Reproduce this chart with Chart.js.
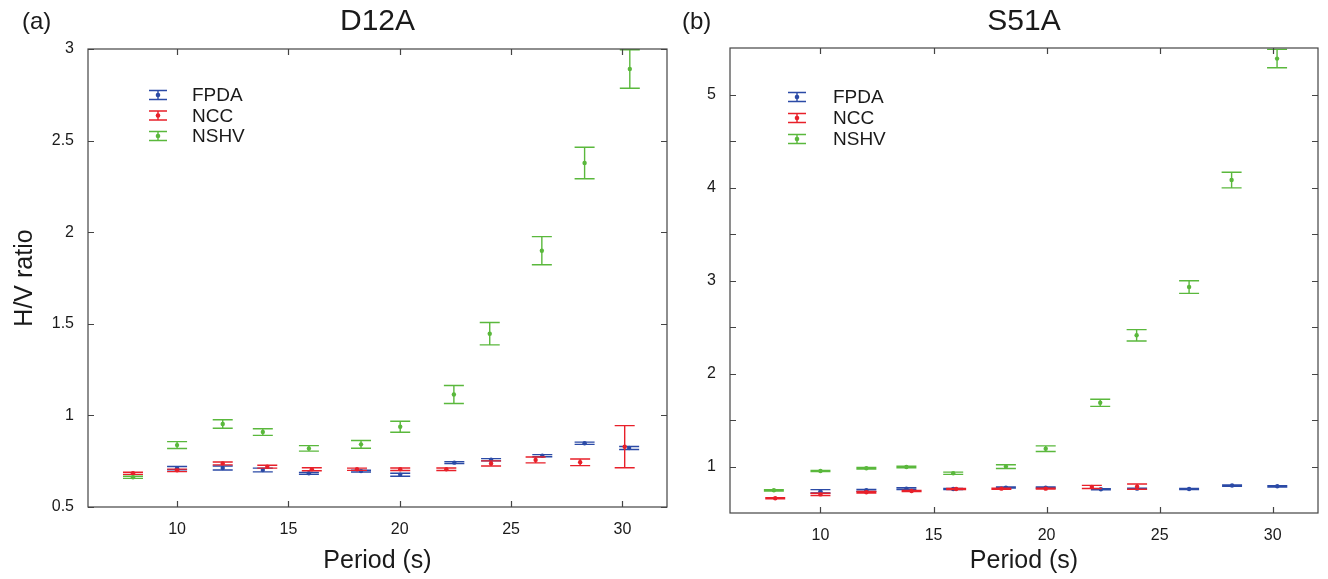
<!DOCTYPE html>
<html><head><meta charset="utf-8">
<script src="https://cdn.jsdelivr.net/npm/chart.js@4/dist/chart.umd.min.js"></script>
<style>
html,body{margin:0;padding:0;background:#fff;}
#wrap{position:relative;width:1328px;height:579px;overflow:hidden;}
.box{position:absolute;top:0;height:579px;}
</style></head><body>
<div id="wrap">
<div class="box" style="left:0;width:680px"><canvas id="c1"></canvas></div>
<div class="box" style="left:680px;width:648px"><canvas id="c2"></canvas></div>
</div>
<script>
// ---- data: D12A ----
const d12FpdaPeriod = [10, 12.05, 13.85, 15.92, 18.26, 20.02, 22.45, 24.1, 26.4, 28.3, 30.3];
const d12FpdaHV     = [0.712, 0.713, 0.702, 0.684, 0.696, 0.676, 0.742, 0.758, 0.78, 0.848, 0.822];
const d12FpdaErr    = [0.009, 0.011, 0.01, 0.005, 0.005, 0.008, 0.005, 0.006, 0.006, 0.006, 0.008];

const d12NccPeriod = [8.02, 10, 12.05, 14.05, 16.05, 18.08, 20.02, 22.09, 24.1, 26.1, 28.1, 30.1];
const d12NccHV     = [0.684, 0.70, 0.738, 0.72, 0.706, 0.706, 0.706, 0.706, 0.738, 0.757, 0.744, 0.829];
const d12NccErr    = [0.006, 0.007, 0.008, 0.008, 0.008, 0.006, 0.007, 0.007, 0.014, 0.016, 0.018, 0.115];

const d12NshvPeriod = [8.02, 10, 12.05, 13.85, 15.92, 18.26, 20.02, 22.43, 24.04, 26.38, 28.3, 30.33];
const d12NshvHV     = [0.662, 0.838, 0.953, 0.909, 0.82, 0.842, 0.938, 1.114, 1.446, 1.899, 2.378, 2.891];
const d12NshvErr    = [0.006, 0.019, 0.023, 0.018, 0.015, 0.021, 0.03, 0.049, 0.061, 0.077, 0.086, 0.105];

// ---- data: S51A ----
const s51FpdaPeriod = [10, 12.03, 13.8, 15.87, 18.2, 19.96, 22.4, 24.0, 26.3, 28.2, 30.2];
const s51FpdaHV     = [0.733, 0.744, 0.762, 0.758, 0.773, 0.773, 0.755, 0.762, 0.758, 0.795, 0.787];
const s51FpdaErr    = [0.018, 0.01, 0.01, 0.006, 0.006, 0.006, 0.005, 0.005, 0.006, 0.007, 0.007];

const s51NccPeriod = [8.0, 10, 12.03, 14.03, 16.0, 18.0, 19.96, 22.0, 24.0];
const s51NccHV     = [0.658, 0.70, 0.723, 0.737, 0.758, 0.762, 0.762, 0.78, 0.784];
const s51NccErr    = [0.006, 0.012, 0.008, 0.006, 0.005, 0.006, 0.005, 0.017, 0.028];

const s51NshvPeriod = [7.94, 10, 12.03, 13.8, 15.87, 18.2, 19.96, 22.37, 23.98, 26.3, 28.18, 30.19];
const s51NshvHV     = [0.744, 0.952, 0.981, 0.995, 0.927, 0.999, 1.192, 1.685, 2.411, 2.93, 4.08, 5.386];
const s51NshvErr    = [0.007, 0.006, 0.008, 0.008, 0.012, 0.02, 0.03, 0.038, 0.061, 0.068, 0.084, 0.099];

// ---- ticks / labels ----
const seriesNames = ['FPDA', 'NCC', 'NSHV'];
const xTicks = [10, 15, 20, 25, 30];
const yTicksA = [0.5, 1, 1.5, 2, 2.5, 3];
const yTicksB = [1, 1.5, 2, 2.5, 3, 3.5, 4, 4.5, 5];

const COLORS = ['#2b4aa6', '#e8202a', '#5ab83c'];
const FONT = '"Liberation Sans", Arial, Helvetica, sans-serif';
Chart.defaults.font.family = FONT;
Chart.defaults.color = '#1a1a1a';

function pts(px, py, pe) { return px.map((v, i) => ({x: v, y: py[i], e: pe[i]})); }

const errorBars = {
  id: 'errorBars',
  afterDatasetDraw(chart, args) {
    const ds = chart.data.datasets[args.index];
    const {ctx, scales: {x, y}} = chart;
    ctx.save();
    ctx.strokeStyle = ds.borderColor;
    ctx.lineWidth = 1.4;
    ds.data.forEach(p => {
      const px = x.getPixelForValue(p.x);
      const y1 = y.getPixelForValue(p.y - p.e), y2 = y.getPixelForValue(p.y + p.e);
      const hw = 10;
      ctx.beginPath();
      ctx.moveTo(px, y1); ctx.lineTo(px, y2);
      ctx.moveTo(px - hw, y1); ctx.lineTo(px + hw, y1);
      ctx.moveTo(px - hw, y2); ctx.lineTo(px + hw, y2);
      ctx.stroke();
    });
    ctx.restore();
  }
};

const frame = {
  id: 'frame',
  afterDraw(chart, args, opts) {
    const {ctx, chartArea: a, scales: {x, y}} = chart;
    ctx.save();
    ctx.strokeStyle = '#444';
    ctx.lineWidth = 1.2;
    ctx.strokeRect(a.left, a.top, a.right - a.left, a.bottom - a.top);
    const L = 6;
    ctx.beginPath();
    x.ticks.forEach(t => {
      const px = Math.round(x.getPixelForValue(t.value)) + 0.5;
      ctx.moveTo(px, a.bottom); ctx.lineTo(px, a.bottom - L);
      ctx.moveTo(px, a.top); ctx.lineTo(px, a.top + L);
    });
    y.ticks.forEach(t => {
      const py = Math.round(y.getPixelForValue(t.value)) + 0.5;
      ctx.moveTo(a.left, py); ctx.lineTo(a.left + L, py);
      ctx.moveTo(a.right, py); ctx.lineTo(a.right - L, py);
    });
    ctx.stroke();

    // legend
    const lg = opts.legend;
    seriesNames.forEach((n, i) => {
      const cy = lg.y + i * lg.dy, cx = lg.x;
      ctx.strokeStyle = COLORS[i]; ctx.fillStyle = COLORS[i];
      ctx.lineWidth = 1.4;
      ctx.beginPath();
      ctx.moveTo(cx - 9, cy - 4.5); ctx.lineTo(cx + 9, cy - 4.5);
      ctx.moveTo(cx - 9, cy + 4.5); ctx.lineTo(cx + 9, cy + 4.5);
      ctx.moveTo(cx, cy - 4.5); ctx.lineTo(cx, cy + 4.5);
      ctx.stroke();
      ctx.beginPath(); ctx.arc(cx, cy, 2.3, 0, Math.PI * 2); ctx.fill();
      ctx.fillStyle = '#1a1a1a';
      ctx.font = '19px ' + FONT;
      ctx.textBaseline = 'middle'; ctx.textAlign = 'left';
      ctx.fillText(n, lg.tx, cy + 1);
    });

    // texts
    ctx.fillStyle = '#1a1a1a';
    ctx.textBaseline = 'middle';
    ctx.textAlign = 'left';
    ctx.font = '24px ' + FONT;
    ctx.fillText(opts.panel, opts.panelX, 22);
    ctx.textAlign = 'center';
    ctx.font = '30px ' + FONT;
    ctx.fillText(opts.title, (a.left + a.right) / 2, 22);
    ctx.font = '25px ' + FONT;
    ctx.fillText('Period (s)', (a.left + a.right) / 2, 561);
    if (opts.ylabel) {
      ctx.save();
      ctx.translate(25, (a.top + a.bottom) / 2);
      ctx.rotate(-Math.PI / 2);
      ctx.fillText(opts.ylabel, 0, 0);
      ctx.restore();
    }
    ctx.restore();
  }
};

function makeChart(id, sets, yMin, yMax, yTicks, pad, xH, yW, textOpts, intOnly) {
  return new Chart(document.getElementById(id), {
    type: 'scatter',
    data: {
      datasets: sets.map((s, i) => ({
        label: seriesNames[i],
        data: s,
        borderColor: COLORS[i],
        backgroundColor: COLORS[i],
        pointRadius: 2.2,
        pointBorderWidth: 0,
        pointHoverRadius: 2.2,
        order: 3 - i
      }))
    },
    options: {
      responsive: true,
      maintainAspectRatio: false,
      animation: false,
      layout: {padding: pad},
      plugins: {legend: {display: false}, tooltip: {enabled: false}, frame: textOpts},
      scales: {
        x: {
          type: 'linear', min: 6, max: 32,
          afterBuildTicks: s => { s.ticks = xTicks.map(v => ({value: v})); },
          afterFit: s => { s.height = xH; },
          grid: {display: false, drawTicks: false},
          border: {display: false},
          ticks: {font: {size: 16}, padding: 13, color: '#1a1a1a', maxRotation: 0}
        },
        y: {
          type: 'linear', min: yMin, max: yMax,
          afterBuildTicks: s => { s.ticks = yTicks.map(v => ({value: v})); },
          afterFit: s => { s.width = yW; },
          grid: {display: false, drawTicks: false},
          border: {display: false},
          ticks: {font: {size: 16}, padding: 14, color: '#1a1a1a',
                  callback: v => (intOnly && !Number.isInteger(v)) ? '' : String(v)}
        }
      }
    },
    plugins: [errorBars, frame]
  });
}

makeChart('c1',
  [pts(d12FpdaPeriod, d12FpdaHV, d12FpdaErr), pts(d12NccPeriod, d12NccHV, d12NccErr), pts(d12NshvPeriod, d12NshvHV, d12NshvErr)],
  0.5, 3, yTicksA, {left: 0, top: 49, right: 13, bottom: 0}, 72, 88,
  {panel: '(a)', panelX: 22, title: 'D12A', ylabel: 'H/V ratio', legend: {x: 158, tx: 192, y: 95, dy: 20.5}}, false);

makeChart('c2',
  [pts(s51FpdaPeriod, s51FpdaHV, s51FpdaErr), pts(s51NccPeriod, s51NccHV, s51NccErr), pts(s51NshvPeriod, s51NshvHV, s51NshvErr)],
  0.5, 5.5, yTicksB, {left: 0, top: 48, right: 10, bottom: 0}, 66, 50,
  {panel: '(b)', panelX: 2, title: 'S51A', ylabel: null, legend: {x: 117, tx: 153, y: 97, dy: 21}}, true);
</script>
</body></html>
